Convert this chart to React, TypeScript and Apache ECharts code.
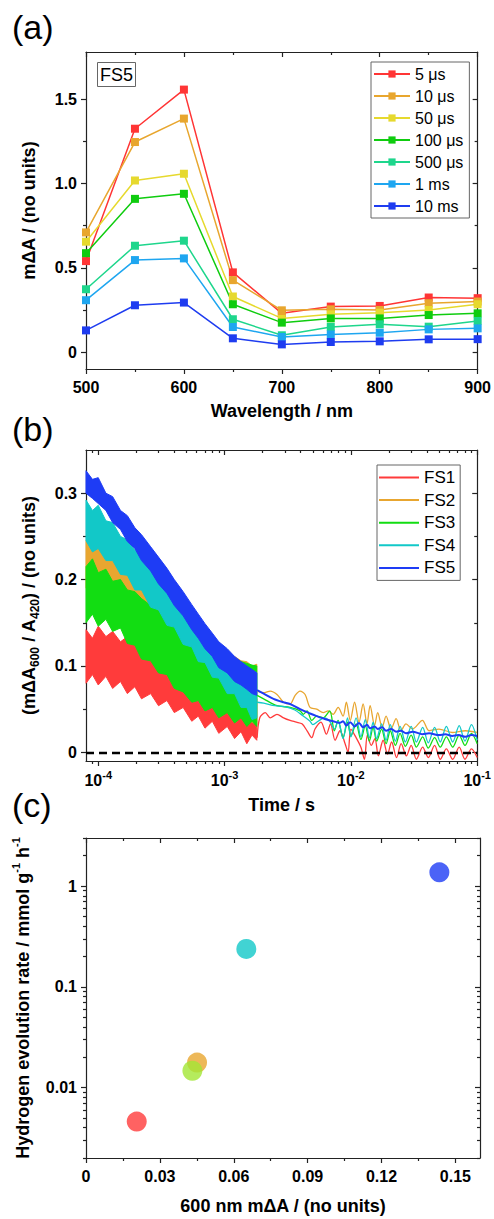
import React, { useEffect, useRef } from 'react';
import * as echarts from 'echarts';

const FONT = "'Liberation Sans', Arial, Helvetica, sans-serif";

// ---------- Panel (a): transient spectra of FS5 ----------
const A_WAVELENGTH = [500, 550, 600, 650, 700, 750, 800, 850, 900];
const A_NAMES = ['5 μs', '10 μs', '50 μs', '100 μs', '500 μs', '1 ms', '10 ms'];
const A_COLORS = ['#FF3535', '#E8A62E', '#E6D92E', '#0FCC0F', '#1ED68C', '#1EA6F0', '#1E3CF0'];
const A_5US = [0.54, 1.325, 1.557, 0.473, 0.23, 0.27, 0.274, 0.324, 0.32];
const A_10US = [0.71, 1.246, 1.385, 0.427, 0.248, 0.254, 0.25, 0.29, 0.3];
const A_50US = [0.655, 1.018, 1.058, 0.33, 0.2, 0.224, 0.234, 0.25, 0.284];
const A_100US = [0.587, 0.909, 0.939, 0.284, 0.175, 0.2, 0.2, 0.22, 0.23];
const A_500US = [0.373, 0.631, 0.661, 0.195, 0.1, 0.149, 0.165, 0.151, 0.185];
const A_1MS = [0.308, 0.546, 0.556, 0.149, 0.09, 0.105, 0.115, 0.135, 0.141];
const A_10MS = [0.129, 0.278, 0.294, 0.082, 0.046, 0.06, 0.064, 0.076, 0.077];
const A_VALUES = [A_5US, A_10US, A_50US, A_100US, A_500US, A_1MS, A_10MS];
const A_X_MAJOR = [500, 600, 700, 800, 900];
const A_X_MINOR = [550, 650, 750, 850];
const A_Y_MAJOR = [0, 0.5, 1.0, 1.5];
const A_Y_MINOR = [0.25, 0.75, 1.25];

// ---------- Panel (b): decay kinetics ----------
const B_NAMES = ['FS1', 'FS2', 'FS3', 'FS4', 'FS5'];
const B_COLORS = ['#FF3B3B', '#E8A630', '#12DD12', '#12C8C8', '#1E3CF5'];
// noisy early-time region, drawn as an envelope (upper / lower edge)
const B_T = [8e-5, 9e-5, 1e-4, 1.15e-4, 1.3e-4, 1.5e-4, 1.7e-4, 1.95e-4, 2.2e-4, 2.6e-4, 3e-4, 3.5e-4, 4e-4, 4.7e-4, 5.5e-4, 6.2e-4, 7e-4, 8e-4, 9e-4, 1.05e-3, 1.2e-3, 1.35e-3, 1.5e-3, 1.65e-3, 1.8e-3];
const FS1_HI = [0.142, 0.132, 0.146, 0.134, 0.14, 0.128, 0.134, 0.124, 0.13, 0.118, 0.124, 0.11, 0.115, 0.102, 0.106, 0.094, 0.097, 0.086, 0.088, 0.076, 0.078, 0.066, 0.07, 0.058, 0.062];
const FS1_LO = [0.08, 0.09, 0.078, 0.088, 0.074, 0.082, 0.068, 0.076, 0.062, 0.068, 0.054, 0.06, 0.046, 0.052, 0.036, 0.042, 0.028, 0.036, 0.022, 0.03, 0.016, 0.024, 0.01, 0.02, 0.014];
const FS2_HI = [0.245, 0.236, 0.24, 0.226, 0.228, 0.214, 0.214, 0.202, 0.2, 0.188, 0.184, 0.172, 0.167, 0.156, 0.148, 0.14, 0.134, 0.126, 0.121, 0.114, 0.111, 0.106, 0.105, 0.1, 0.102];
const FS2_LO = [0.19, 0.186, 0.182, 0.175, 0.168, 0.161, 0.154, 0.146, 0.138, 0.129, 0.12, 0.112, 0.104, 0.095, 0.086, 0.079, 0.072, 0.065, 0.058, 0.052, 0.046, 0.042, 0.038, 0.035, 0.032];
const FS3_HI = [0.215, 0.224, 0.208, 0.212, 0.198, 0.2, 0.188, 0.186, 0.178, 0.17, 0.164, 0.156, 0.15, 0.142, 0.136, 0.13, 0.126, 0.12, 0.116, 0.111, 0.108, 0.105, 0.103, 0.101, 0.1];
const FS3_LO = [0.15, 0.16, 0.146, 0.154, 0.14, 0.144, 0.126, 0.124, 0.108, 0.106, 0.092, 0.09, 0.074, 0.07, 0.058, 0.06, 0.048, 0.052, 0.04, 0.046, 0.034, 0.04, 0.03, 0.036, 0.03];
const FS4_HI = [0.292, 0.28, 0.286, 0.268, 0.266, 0.25, 0.246, 0.234, 0.229, 0.215, 0.206, 0.194, 0.184, 0.172, 0.161, 0.152, 0.143, 0.133, 0.125, 0.116, 0.109, 0.103, 0.099, 0.095, 0.092];
const FS4_LO = [0.245, 0.232, 0.236, 0.222, 0.222, 0.206, 0.205, 0.188, 0.188, 0.168, 0.165, 0.147, 0.145, 0.125, 0.122, 0.105, 0.104, 0.087, 0.086, 0.068, 0.068, 0.052, 0.052, 0.038, 0.04];
const FS5_HI = [0.326, 0.316, 0.318, 0.3, 0.296, 0.28, 0.274, 0.26, 0.252, 0.238, 0.226, 0.213, 0.2, 0.186, 0.171, 0.16, 0.149, 0.138, 0.128, 0.12, 0.111, 0.105, 0.1, 0.096, 0.092];
const FS5_LO = [0.3, 0.294, 0.288, 0.28, 0.266, 0.258, 0.244, 0.236, 0.222, 0.21, 0.195, 0.184, 0.17, 0.158, 0.142, 0.132, 0.12, 0.111, 0.098, 0.092, 0.082, 0.078, 0.073, 0.068, 0.066];
const B_HI = [FS1_HI, FS2_HI, FS3_HI, FS4_HI, FS5_HI];
const B_LO = [FS1_LO, FS2_LO, FS3_LO, FS4_LO, FS5_LO];
// later-time traces [time (s), value]
const FS1_TAIL = [[1.81e-3, 0.017], [1.9e-3, 0.04], [2.1e-3, 0.046], [2.3e-3, 0.04], [2.6e-3, 0.044], [2.93e-3, 0.04], [3.3e-3, 0.037], [3.7e-3, 0.035], [4.1e-3, 0.033], [4.5e-3, 0.025], [4.9e-3, 0.017], [5.2e-3, 0.027], [5.8e-3, 0.035], [6.4e-3, 0.021], [6.9e-3, 0.033], [7.5e-3, 0.014], [8.2e-3, 0.025], [9.0e-3, 0.01], [9.5e-3, 0.0], [1.0e-2, 0.027], [1.1e-2, 0.017], [1.2e-2, 0.006], [1.28e-2, -0.008], [1.35e-2, 0.02], [1.45e-2, 0.008], [1.55e-2, 0.016], [1.65e-2, -0.004], [1.8e-2, 0.014], [1.95e-2, -0.002], [2.1e-2, 0.012], [2.3e-2, -0.006], [2.5e-2, 0.01], [2.75e-2, -0.004], [3.0e-2, 0.008], [3.3e-2, -0.008], [3.7e-2, 0.006], [4.1e-2, -0.006], [4.6e-2, 0.008], [5.1e-2, -0.008], [5.7e-2, 0.004], [6.4e-2, -0.008], [7.2e-2, 0.006], [8.0e-2, -0.008], [9.0e-2, 0.004], [1e-1, -0.006]];
const FS2_TAIL = [[1.81e-3, 0.071], [2.04e-3, 0.069], [2.3e-3, 0.071], [2.6e-3, 0.067], [2.93e-3, 0.058], [3.3e-3, 0.056], [3.62e-3, 0.066], [3.96e-3, 0.071], [4.34e-3, 0.067], [4.75e-3, 0.052], [5.36e-3, 0.05], [6.04e-3, 0.046], [6.61e-3, 0.048], [7.23e-3, 0.044], [7.92e-3, 0.052], [8.67e-3, 0.042], [9.21e-3, 0.058], [9.89e-3, 0.037], [1.07e-2, 0.058], [1.16e-2, 0.035], [1.25e-2, 0.056], [1.34e-2, 0.033], [1.42e-2, 0.054], [1.54e-2, 0.031], [1.63e-2, 0.046], [1.77e-2, 0.029], [1.9e-2, 0.042], [2.08e-2, 0.027], [2.28e-2, 0.039], [2.49e-2, 0.025], [2.73e-2, 0.033], [3.08e-2, 0.027], [3.68e-2, 0.037], [4.16e-2, 0.025], [4.98e-2, 0.027], [6.34e-2, 0.023], [8.07e-2, 0.025], [9.95e-2, 0.023]];
const FS3_TAIL = [[1.81e-3, 0.066], [2.04e-3, 0.062], [2.6e-3, 0.054], [3.3e-3, 0.052], [3.96e-3, 0.048], [4.2e-3, 0.044], [4.5e-3, 0.048], [4.9e-3, 0.037], [5.36e-3, 0.042], [6.04e-3, 0.04], [6.8e-3, 0.048], [7.4e-3, 0.025], [7.92e-3, 0.037], [8.67e-3, 0.017], [9.4e-3, 0.035], [1.0e-2, 0.019], [1.1e-2, 0.033], [1.2e-2, 0.015], [1.3e-2, 0.031], [1.4e-2, 0.013], [1.5e-2, 0.029], [1.6e-2, 0.013], [1.75e-2, 0.027], [1.9e-2, 0.01], [2.05e-2, 0.025], [2.25e-2, 0.008], [2.45e-2, 0.022], [2.7e-2, 0.007], [3.0e-2, 0.02], [3.3e-2, 0.006], [3.7e-2, 0.018], [4.1e-2, 0.005], [4.6e-2, 0.017], [5.1e-2, 0.006], [5.7e-2, 0.018], [6.4e-2, 0.006], [7.2e-2, 0.02], [8.0e-2, 0.008], [9.0e-2, 0.022], [1e-1, 0.01]];
const FS4_TAIL = [[1.81e-3, 0.058], [2.04e-3, 0.057], [2.5e-3, 0.054], [3.0e-3, 0.053], [3.6e-3, 0.049], [4.2e-3, 0.042], [4.75e-3, 0.036], [5.0e-3, 0.032], [5.5e-3, 0.036], [6.2e-3, 0.04], [6.8e-3, 0.036], [7.4e-3, 0.027], [7.92e-3, 0.036], [8.67e-3, 0.016], [9.4e-3, 0.04], [1.0e-2, 0.018], [1.1e-2, 0.04], [1.2e-2, 0.018], [1.3e-2, 0.038], [1.4e-2, 0.017], [1.5e-2, 0.035], [1.6e-2, 0.016], [1.75e-2, 0.033], [1.9e-2, 0.014], [2.05e-2, 0.032], [2.25e-2, 0.013], [2.45e-2, 0.03], [2.7e-2, 0.012], [3.0e-2, 0.03], [3.3e-2, 0.012], [3.7e-2, 0.029], [4.1e-2, 0.011], [4.6e-2, 0.029], [5.1e-2, 0.012], [5.7e-2, 0.03], [6.4e-2, 0.012], [7.2e-2, 0.031], [8.0e-2, 0.013], [9.0e-2, 0.032], [1e-1, 0.014]];
const FS5_TAIL = [[1.81e-3, 0.072], [2.04e-3, 0.068], [2.44e-3, 0.062], [2.93e-3, 0.058], [3.3e-3, 0.056], [3.96e-3, 0.05], [4.75e-3, 0.045], [5.36e-3, 0.042], [6.41e-3, 0.038], [7.23e-3, 0.036], [8.16e-3, 0.034], [8.67e-3, 0.036], [9.21e-3, 0.031], [9.89e-3, 0.035], [1.07e-2, 0.03], [1.16e-2, 0.034], [1.25e-2, 0.029], [1.34e-2, 0.032], [1.42e-2, 0.028], [1.54e-2, 0.03], [1.63e-2, 0.027], [1.77e-2, 0.029], [1.9e-2, 0.025], [2.08e-2, 0.027], [2.28e-2, 0.024], [2.49e-2, 0.025], [2.73e-2, 0.022], [3.08e-2, 0.024], [3.68e-2, 0.021], [4.16e-2, 0.022], [4.98e-2, 0.02], [5.6e-2, 0.021], [6.34e-2, 0.019], [7.1e-2, 0.02], [8.07e-2, 0.018], [9e-2, 0.02], [9.95e-2, 0.019]];
const B_TAILS = [FS1_TAIL, FS2_TAIL, FS3_TAIL, FS4_TAIL, FS5_TAIL];
const B_X_MAJOR = [1e-4, 1e-3, 1e-2, 1e-1];
const B_X_MINOR = [9e-5, 2e-4, 3e-4, 4e-4, 5e-4, 6e-4, 7e-4, 8e-4, 9e-4, 2e-3, 3e-3, 4e-3, 5e-3, 6e-3, 7e-3, 8e-3, 9e-3, 2e-2, 3e-2, 4e-2, 5e-2, 6e-2, 7e-2, 8e-2, 9e-2];
const B_Y_MAJOR = [0, 0.1, 0.2, 0.3];
const B_Y_MINOR = [0.05, 0.15, 0.25];

// ---------- Panel (c): H2 evolution vs 600 nm signal ----------
const C_X = [0.0206, 0.0451, 0.0432, 0.0651, 0.1435];
const C_Y = [0.0046, 0.0177, 0.0147, 0.238, 1.37];
const C_COLORS = ['#FF3B3B', '#E8A630', '#A2E635', '#12C8C8', '#1E3CF5'];
const C_X_MAJOR = [0, 0.03, 0.06, 0.09, 0.12, 0.15];
const C_X_MINOR = [0.015, 0.045, 0.075, 0.105, 0.135];
const C_Y_MAJOR = [0.01, 0.1, 1];
const C_Y_MINOR = [0.002, 0.003, 0.004, 0.005, 0.006, 0.007, 0.008, 0.009, 0.02, 0.03, 0.04, 0.05, 0.06, 0.07, 0.08, 0.09, 0.2, 0.3, 0.4, 0.5, 0.6, 0.7, 0.8, 0.9, 2, 3];

const AXIS_COLOR = '#222';

function makeAxes(dim: 'x' | 'y', grid: number, s: any) {
  const near = dim === 'x' ? 'bottom' : 'left';
  const far = dim === 'x' ? 'top' : 'right';
  const lineStyle = { color: AXIS_COLOR, width: 1.2 };
  const common: any = {
    gridIndex: grid, type: s.type, min: s.min, max: s.max,
    splitLine: { show: false }, splitArea: { show: false },
  };
  if (s.type === 'log') common.logBase = 10;
  return [
    {
      ...common, position: near,
      axisLine: { show: true, onZero: false, lineStyle },
      axisTick: { show: true, inside: false, length: 5, customValues: s.major, lineStyle },
      axisLabel: {
        show: true, customValues: s.major, formatter: s.fmt, margin: s.labelMargin,
        fontSize: 16, fontWeight: 'bold', fontFamily: FONT, color: '#000',
        lineHeight: s.labelLineHeight, rich: s.labelRich,
      },
      name: s.name, nameLocation: 'middle', nameGap: s.nameGap,
      nameTextStyle: {
        fontSize: 18, fontWeight: 'bold', fontFamily: FONT, color: '#000',
        lineHeight: s.nameLineHeight || 20, rich: s.nameRich,
      },
    },
    {
      ...common, position: near,
      axisLine: { show: false, onZero: false },
      axisTick: { show: true, inside: false, length: 3, customValues: s.minor, lineStyle },
      axisLabel: { show: false },
    },
    {
      ...common, position: far,
      axisLine: { show: true, onZero: false, lineStyle },
      axisTick: { show: true, inside: true, length: 5, customValues: s.major, lineStyle },
      axisLabel: { show: false },
    },
    {
      ...common, position: far,
      axisLine: { show: false, onZero: false },
      axisTick: { show: true, inside: true, length: 3, customValues: s.minor, lineStyle },
      axisLabel: { show: false },
    },
  ];
}

const SUP = { fontSize: 11, lineHeight: 11, verticalAlign: 'top', fontWeight: 'bold', fontFamily: FONT, color: '#000' };
const SUB = { fontSize: 12, lineHeight: 12, verticalAlign: 'bottom', fontWeight: 'bold', fontFamily: FONT, color: '#000' };

function buildOption() {
  const xAxes = [
    ...makeAxes('x', 0, {
      type: 'value', min: 500, max: 900, major: A_X_MAJOR, minor: A_X_MINOR,
      fmt: (v: number) => String(v), labelMargin: 10,
      name: 'Wavelength / nm', nameGap: 32,
    }),
    ...makeAxes('x', 1, {
      type: 'log', min: 8e-5, max: 0.1, major: B_X_MAJOR, minor: B_X_MINOR,
      fmt: (v: number) => `10{sup|${Math.round(Math.log10(v))}}`, labelMargin: 8,
      labelLineHeight: 22, labelRich: { sup: SUP },
      name: 'Time / s', nameGap: 34,
    }),
    ...makeAxes('x', 2, {
      type: 'value', min: 0, max: 0.16, major: C_X_MAJOR, minor: C_X_MINOR,
      fmt: (v: number) => (v === 0 ? '0' : String(+v.toFixed(2))), labelMargin: 10,
      name: '600 nm mΔA / (no units)', nameGap: 38,
    }),
  ];
  const yAxes = [
    ...makeAxes('y', 0, {
      type: 'value', min: -0.1, max: 1.78, major: A_Y_MAJOR, minor: A_Y_MINOR,
      fmt: (v: number) => (v === 0 ? '0' : v.toFixed(1)), labelMargin: 9,
      name: 'mΔA / (no units)', nameGap: 47,
    }),
    ...makeAxes('y', 1, {
      type: 'value', min: -0.01, max: 0.35, major: B_Y_MAJOR, minor: B_Y_MINOR,
      fmt: (v: number) => (v === 0 ? '0' : v.toFixed(1)), labelMargin: 9,
      name: '(mΔA{sub|600} / A{sub|420}) / (no units)', nameGap: 45,
      nameLineHeight: 24, nameRich: { sub: SUB },
    }),
    ...makeAxes('y', 2, {
      type: 'log', min: 0.002, max: 3, major: C_Y_MAJOR, minor: C_Y_MINOR,
      fmt: (v: number) => String(v), labelMargin: 9,
      name: 'Hydrogen evolution rate / mmol g{sup|-1} h{sup|-1}', nameGap: 45,
      nameLineHeight: 24, nameRich: { sup: SUP },
    }),
  ];

  const series: any[] = [];
  // (a)
  A_VALUES.forEach((vals, k) => {
    series.push({
      type: 'line', name: A_NAMES[k], xAxisIndex: 0, yAxisIndex: 0,
      data: A_WAVELENGTH.map((w, i) => [w, vals[i]]),
      symbol: 'rect', symbolSize: 8, showSymbol: true,
      lineStyle: { color: A_COLORS[k], width: 1.5 },
      itemStyle: { color: A_COLORS[k] },
      z: 3,
    });
  });
  // (b) tails (also legend entries)
  B_TAILS.forEach((tail, k) => {
    const s: any = {
      type: 'line', name: B_NAMES[k], xAxisIndex: 4, yAxisIndex: 4,
      data: tail, symbol: 'none', showSymbol: false, smooth: 0.3,
      lineStyle: { color: B_COLORS[k], width: k === 4 ? 2 : 1.3 },
      itemStyle: { color: B_COLORS[k] },
      z: 3,
    };
    if (k === 4) {
      s.markLine = {
        silent: true, symbol: ['none', 'none'], label: { show: false },
        lineStyle: { color: '#000', type: [8, 5], width: 2.4 },
        data: [{ yAxis: 0 }],
      };
    }
    series.push(s);
  });
  // (b) noisy envelopes
  B_HI.forEach((hi, k) => {
    const lo = B_LO[k];
    series.push({
      type: 'custom', name: 'band' + (k + 1), xAxisIndex: 4, yAxisIndex: 4,
      silent: true, z: 2,
      data: B_T.map((t, i) => [t, lo[i], hi[i]]),
      encode: { x: 0, y: [1, 2] },
      renderItem: (params: any, api: any) => {
        if (params.dataIndex !== 0) return { type: 'group', children: [] };
        const pts: number[][] = [];
        for (let i = 0; i < B_T.length; i++) pts.push(api.coord([B_T[i], hi[i]]));
        for (let i = B_T.length - 1; i >= 0; i--) pts.push(api.coord([B_T[i], lo[i]]));
        return {
          type: 'polygon', shape: { points: pts },
          style: { fill: B_COLORS[k], stroke: B_COLORS[k], lineWidth: 1 },
        };
      },
    });
  });
  // (c)
  series.push({
    type: 'scatter', name: 'rate', xAxisIndex: 8, yAxisIndex: 8,
    symbol: 'circle', symbolSize: 20,
    data: C_X.map((x, i) => ({ value: [x, C_Y[i]], itemStyle: { color: C_COLORS[i] } })),
    z: 3,
  });

  return {
    animation: false,
    backgroundColor: '#fff',
    textStyle: { fontFamily: FONT },
    grid: [
      { left: 86, top: 52, width: 394, height: 317 },
      { left: 86, top: 450, width: 394, height: 311 },
      { left: 86, top: 838, width: 394, height: 320 },
    ],
    xAxis: xAxes,
    yAxis: yAxes,
    legend: [
      {
        orient: 'vertical', left: 371, top: 62, data: A_NAMES,
        itemWidth: 36, itemHeight: 9, itemGap: 4, itemTextGap: 6,
        padding: [3, 6, 3, 2], borderColor: '#666', borderWidth: 1,
        textStyle: { fontSize: 16, lineHeight: 18, fontFamily: FONT, color: '#000' },
      },
      {
        orient: 'vertical', left: 377, top: 465,
        data: B_NAMES.map((n) => ({ name: n, icon: 'rect' })),
        itemWidth: 40, itemHeight: 2, itemGap: 3.6, itemTextGap: 6,
        padding: [3, 5, 3, 2], borderColor: '#666', borderWidth: 1,
        textStyle: { fontSize: 17, lineHeight: 19, fontFamily: FONT, color: '#000' },
      },
    ],
    title: [
      {
        text: 'FS5', left: 97, top: 62, padding: [4, 3, 3, 3],
        borderColor: '#666', borderWidth: 1,
        textStyle: { fontSize: 18, fontWeight: 'normal', fontFamily: FONT, color: '#000' },
      },
    ],
    graphic: [
      { type: 'text', left: 12, top: 10, style: { text: '(a)', fontSize: 34, fontFamily: FONT, fill: '#000' } },
      { type: 'text', left: 12, top: 412, style: { text: '(b)', fontSize: 34, fontFamily: FONT, fill: '#000' } },
      { type: 'text', left: 12, top: 788, style: { text: '(c)', fontSize: 34, fontFamily: FONT, fill: '#000' } },
    ],
    series,
  };
}

export default function App() {
  const ref = useRef<HTMLDivElement>(null);
  useEffect(() => {
    if (!ref.current) return;
    const chart = echarts.init(ref.current, undefined, { renderer: 'svg' });
    chart.setOption(buildOption() as any);
    return () => chart.dispose();
  }, []);
  return (
    <div
      ref={ref}
      style={{ position: 'absolute', left: 0, top: 0, width: 494, height: 1219, background: '#fff' }}
    />
  );
}
